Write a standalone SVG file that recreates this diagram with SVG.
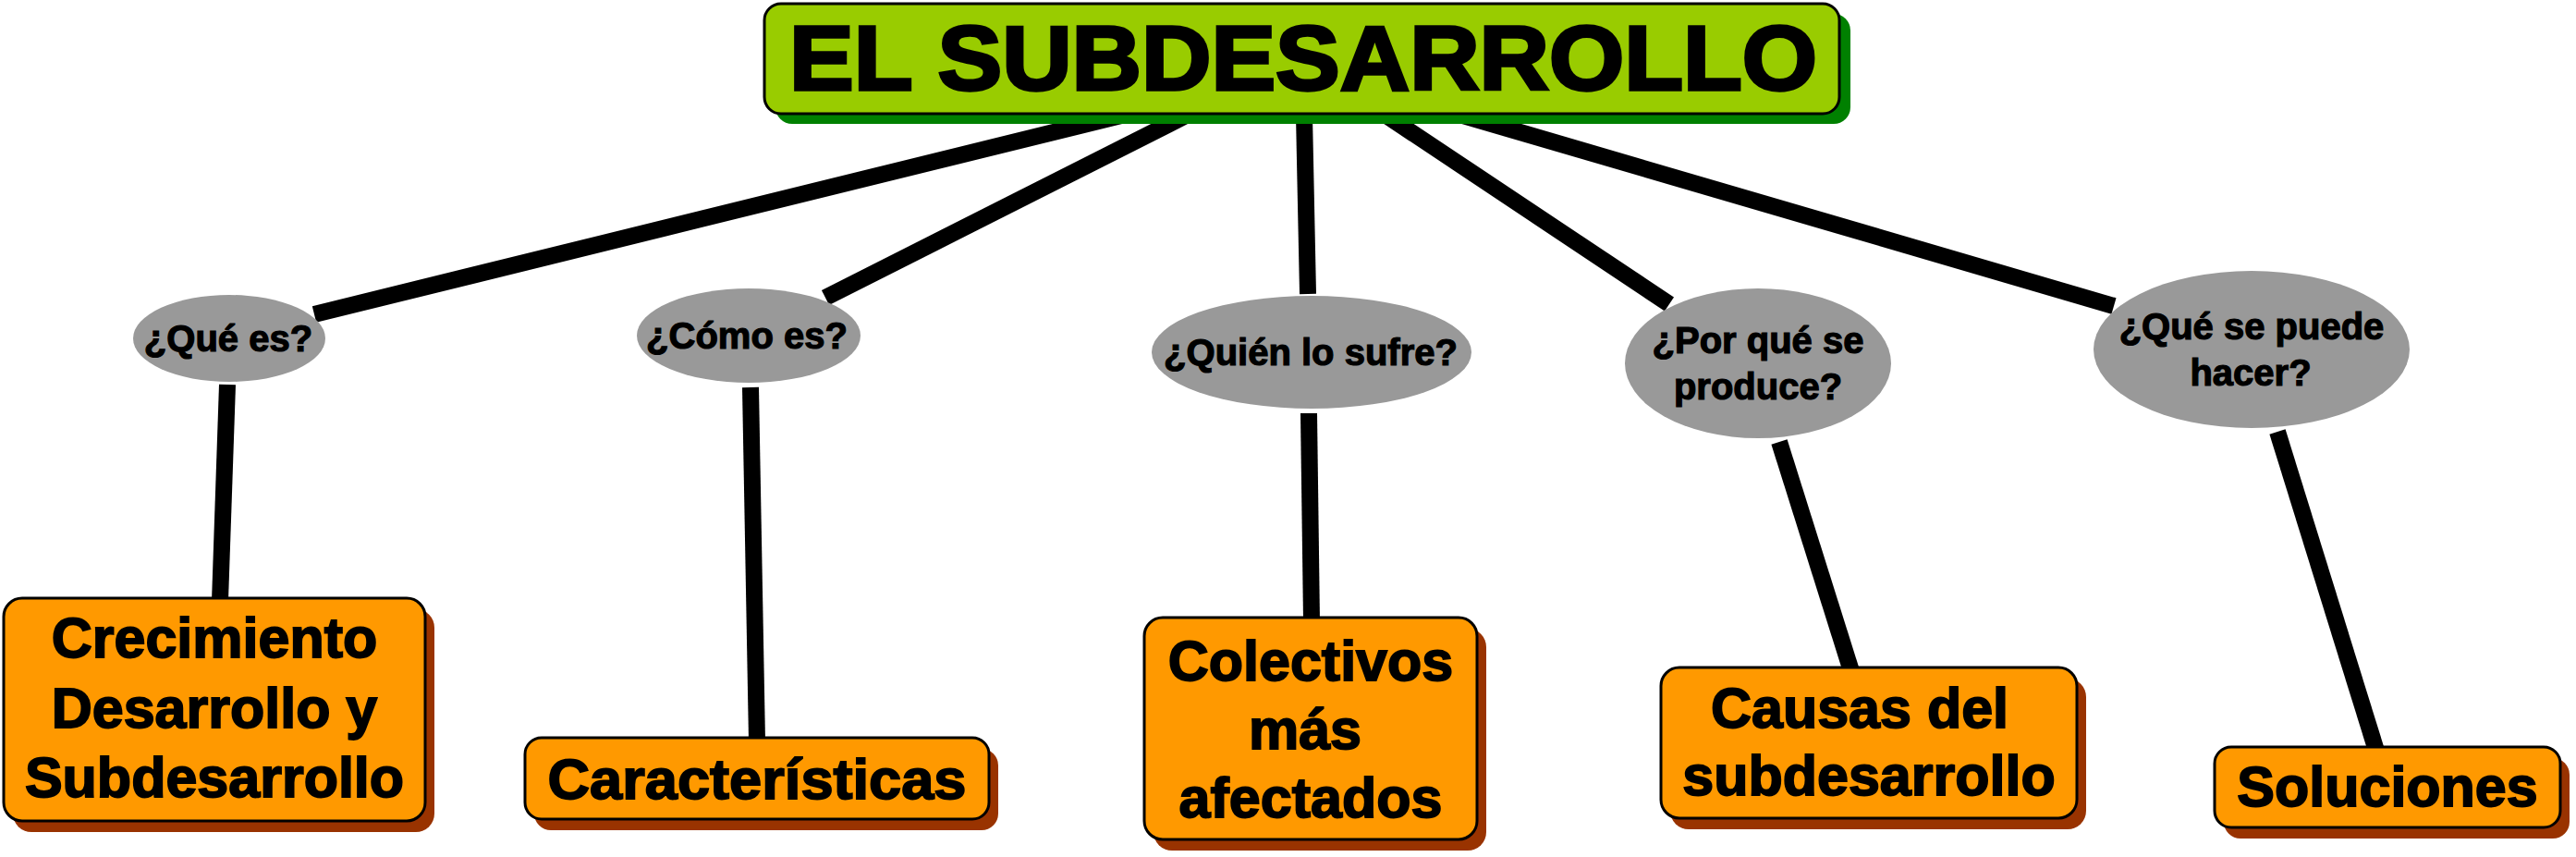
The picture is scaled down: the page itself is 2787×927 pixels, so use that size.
<svg xmlns="http://www.w3.org/2000/svg" width="2787" height="927" viewBox="0 0 2787 927">
<style>
.bg{fill:#ffffff}
.conn line{stroke:#000000;stroke-width:18;stroke-linecap:butt}
.title-sh{fill:#008000}
.title{fill:#99CC00;stroke:#000000;stroke-width:3}
.q{fill:#999999}
.box-sh{fill:#993300}
.box{fill:#FF9900;stroke:#000000;stroke-width:3}
.t{font-family:"Liberation Sans",Arial,sans-serif;font-weight:bold;fill:#000000;stroke:#000000;text-anchor:middle}
.tt{font-size:98px;stroke-width:3.5}
.tq{font-size:40px;stroke-width:1.2}
.tb{font-size:61px;stroke-width:1.8}
</style>
<rect class="bg" x="0" y="0" width="2787" height="927"/>
<g id="connectors" class="conn">
<line x1="1213" y1="125" x2="340" y2="340"/>
<line x1="1283" y1="125" x2="893" y2="322"/>
<line x1="1411" y1="125" x2="1415" y2="318"/>
<line x1="1500" y1="125" x2="1806" y2="329"/>
<line x1="1583" y1="125" x2="2287" y2="331"/>
<line x1="246" y1="416" x2="238" y2="650"/>
<line x1="812" y1="419" x2="819" y2="802"/>
<line x1="1416" y1="447" x2="1419" y2="672"/>
<line x1="1925" y1="478" x2="2003" y2="726"/>
<line x1="2464" y1="467" x2="2571" y2="812"/>
</g>
<g id="title">
<rect class="title-sh" x="839" y="15" width="1163" height="119" rx="18"/>
<rect class="title" x="827" y="4" width="1163" height="119" rx="18"/>
<text class="t tt" x="1410" y="97" textLength="1112" lengthAdjust="spacingAndGlyphs">EL SUBDESARROLLO</text>
</g>
<g id="q1">
<ellipse class="q" cx="248" cy="366" rx="104" ry="47"/>
<text class="t tq" x="247" y="380">¿Qué es?</text>
</g>
<g id="q2">
<ellipse class="q" cx="810" cy="363" rx="121" ry="51"/>
<text class="t tq" x="808" y="377">¿Cómo es?</text>
</g>
<g id="q3">
<ellipse class="q" cx="1419" cy="381" rx="173" ry="61"/>
<text class="t tq" x="1418" y="395">¿Quién lo sufre?</text>
</g>
<g id="q4">
<ellipse class="q" cx="1902" cy="393" rx="144" ry="81"/>
<text class="t tq" x="1902" y="382">¿Por qué se</text>
<text class="t tq" x="1902" y="432">produce?</text>
</g>
<g id="q5">
<ellipse class="q" cx="2436" cy="378" rx="171" ry="85"/>
<text class="t tq" x="2436" y="367">¿Qué se puede</text>
<text class="t tq" x="2435" y="417">hacer?</text>
</g>
<g id="b1">
<rect class="box-sh" x="14" y="659" width="456" height="241" rx="20"/>
<rect class="box" x="4" y="647" width="456" height="241" rx="20"/>
<text class="t tb" x="232" y="711">Crecimiento</text>
<text class="t tb" x="232" y="787">Desarrollo y</text>
<text class="t tb" x="232" y="862">Subdesarrollo</text>
</g>
<g id="b2">
<rect class="box-sh" x="578" y="810" width="502" height="88" rx="18"/>
<rect class="box" x="568" y="798" width="502" height="88" rx="18"/>
<text class="t tb" x="819" y="864" textLength="453" lengthAdjust="spacingAndGlyphs">Características</text>
</g>
<g id="b3">
<rect class="box-sh" x="1248" y="680" width="360" height="240" rx="20"/>
<rect class="box" x="1238" y="668" width="360" height="240" rx="20"/>
<text class="t tb" x="1418" y="736">Colectivos</text>
<text class="t tb" x="1412" y="810">más</text>
<text class="t tb" x="1418" y="884">afectados</text>
</g>
<g id="b4">
<rect class="box-sh" x="1807" y="734" width="450" height="163" rx="20"/>
<rect class="box" x="1797" y="722" width="450" height="163" rx="20"/>
<text class="t tb" x="2012" y="787">Causas del</text>
<text class="t tb" x="2022" y="860">subdesarrollo</text>
</g>
<g id="b5">
<rect class="box-sh" x="2406" y="820" width="374" height="87" rx="18"/>
<rect class="box" x="2396" y="808" width="374" height="87" rx="18"/>
<text class="t tb" x="2583" y="872">Soluciones</text>
</g>
</svg>
